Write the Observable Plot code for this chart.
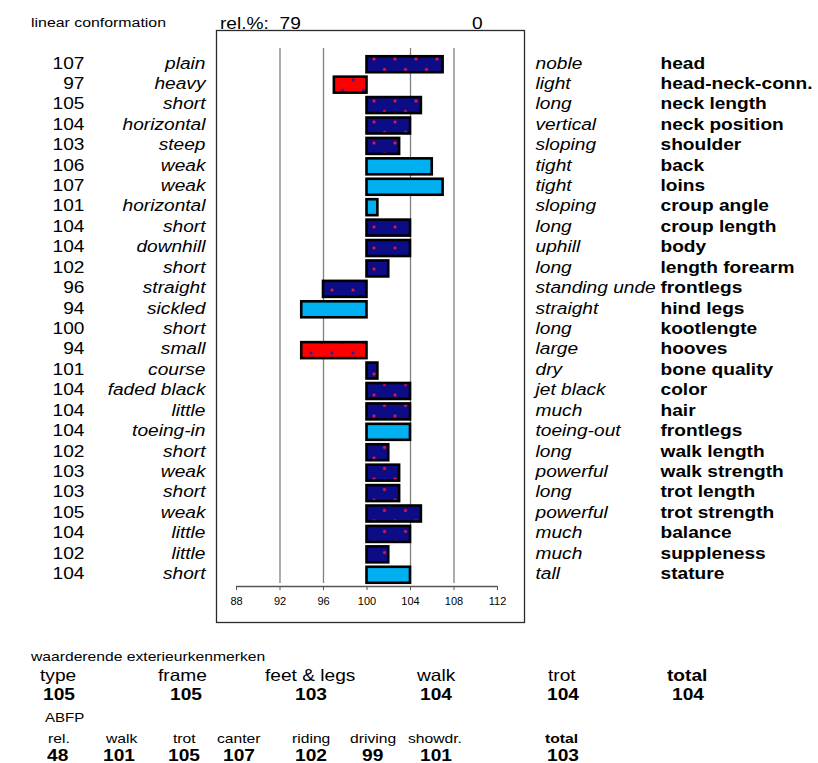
<!DOCTYPE html>
<html><head><meta charset="utf-8">
<script src="https://cdn.jsdelivr.net/npm/d3@7"></script>
<script src="https://cdn.jsdelivr.net/npm/@observablehq/plot@0.6"></script>
<style>
body{margin:0;background:#fff;font-family:"Liberation Sans",Arial,sans-serif;}
#wrap{position:relative;width:818px;height:763px;overflow:hidden;}
#wrap svg{position:absolute;left:0;top:0;}
.t{position:absolute;white-space:pre;color:#000;transform:scaleX(1.16);transform-origin:0 50%;}
</style></head><body><div id="wrap"></div>
<script>
// ---- data ----
const traits = ["head","head-neck-conn.","neck length","neck position","shoulder","back","loins","croup angle","croup length","body","length forearm","frontlegs","hind legs","kootlengte","hooves","bone quality","color","hair","frontlegs ","walk length","walk strength","trot length","trot strength","balance","suppleness","stature"];
const scores = [107,97,105,104,103,106,107,101,104,104,102,96,94,100,94,101,104,104,104,102,103,103,105,104,102,104];
const lowLabels = ["plain","heavy","short","horizontal","steep","weak","weak","horizontal","short","downhill","short","straight","sickled","short","small","course","faded black","little","toeing-in","short","weak","short","weak","little","little","short"];
const highLabels = ["noble","light","long","vertical","sloping","tight","tight","sloping","long","uphill","long","standing unde","straight","long","large","dry","jet black","much","toeing-out","long","powerful","long","powerful","much","much","tall"];
const barKind = ["navy","red","navy","navy","navy","sky","sky","sky","navy","navy","navy","navy","sky","navy","red","navy","navy","navy","sky","navy","navy","navy","navy","navy","navy","sky"];
const baseline = 100;
const axisTicks = [88,92,96,100,104,108,112];
const gridValues = [92,96,104,108];

const headerTitle = "linear conformation";
const relLabel = "rel.%:  79";
const relRight = "0";

const sectionTitle = "waarderende exterieurkenmerken";
const exterLabels = ["type","frame","feet & legs","walk","trot","total"];
const exterValues = [105,105,103,104,104,104];
const abfpTitle = "ABFP";
const abfpLabels = ["rel.","walk","trot","canter","riding","driving","showdr.","total"];
const abfpValues = [48,101,105,107,102,99,101,103];

// ---- chart ----
const rows = traits.map((trait, i) => ({trait, score: scores[i], low: lowLabels[i], high: highLabels[i], kind: barKind[i]}));
const barStyle = {x1: baseline, x2: "score", y: "trait", stroke: "#000", strokeWidth: 2.6, insetTop: 1.2, insetBottom: 1.2};

const W = 818, H = 630, mTop = 53, mBottom = 44, mLeft = 236, mRight = 321;
const chart = Plot.plot({
  width: W, height: H,
  marginTop: mTop, marginBottom: mBottom, marginLeft: mLeft, marginRight: mRight,
  style: {fontFamily: '"Liberation Sans", Arial, sans-serif', background: "transparent", overflow: "visible", color: "#000"},
  x: {domain: [axisTicks[0], axisTicks[axisTicks.length - 1]], label: null},
  y: {domain: traits, padding: 0.1, round: false, axis: null, label: null},
  marks: [
    Plot.frame({insetLeft: -20, insetRight: -27, insetTop: -23, insetBottom: -36, stroke: "#2b2b2b", strokeWidth: 1.3}),
    Plot.ruleX(gridValues, {stroke: "#808080", strokeWidth: 1.3, insetTop: -5, insetBottom: 3}),
    Plot.barX(rows.filter(d => d.kind === "navy"), {...barStyle, fill: "url(#dotsNavy)"}),
    Plot.barX(rows.filter(d => d.kind === "red"), {...barStyle, fill: "url(#dotsRed)"}),
    Plot.barX(rows.filter(d => d.kind === "sky"), {...barStyle, fill: "#00b0f0"}),
    Plot.ruleX(rows.filter(d => d.score === baseline), {x: "score", y: "trait", stroke: "#000", strokeWidth: 2.6, insetTop: 1.2, insetBottom: 1.2}),
    Plot.axisX(axisTicks, {tickSize: 4, tickPadding: 7, fontSize: 11, label: null, stroke: "#555"}),
    Plot.text(rows, {y: "trait", text: "score", frameAnchor: "left", textAnchor: "end", dx: -152, dy: -1.5, fontSize: 16.5}),
    Plot.text(rows, {y: "trait", text: "low", frameAnchor: "left", textAnchor: "end", dx: -31, dy: -1.5, fontSize: 16.5, fontStyle: "italic"}),
    Plot.text(rows, {y: "trait", text: "high", frameAnchor: "right", textAnchor: "start", dx: 38, dy: -1.5, fontSize: 16.5, fontStyle: "italic"}),
    Plot.text(rows, {y: "trait", text: d => d.trait.trim(), frameAnchor: "right", textAnchor: "start", dx: 163, dy: -1.5, fontSize: 16.5, fontWeight: "bold"})
  ]
});

// patterns for dotted bars
const svg = d3.select(chart);
const defs = svg.append("defs");
function dotPattern(id, bg, dot) {
  const p = defs.append("pattern").attr("id", id).attr("patternUnits", "userSpaceOnUse").attr("width", 21).attr("height", 21);
  p.append("rect").attr("width", 21).attr("height", 21).attr("fill", bg);
  for (const [cx, cy] of [[17, 17], [6.5, 6.5]]) {
    p.append("circle").attr("cx", cx).attr("cy", cy).attr("r", 2).attr("fill", "#6a1a6a").attr("opacity", 0.7);
    p.append("circle").attr("cx", cx).attr("cy", cy).attr("r", 1.2).attr("fill", dot);
  }
}
dotPattern("dotsNavy", "#0c0c86", "#ff1028");
dotPattern("dotsRed", "#ff0000", "#3a1a90");

// axis baseline from the x scale
const xs = chart.scale("x");
svg.append("line")
  .attr("x1", xs.apply(axisTicks[0])).attr("x2", xs.apply(axisTicks[axisTicks.length - 1]))
  .attr("y1", H - mBottom + 0.5).attr("y2", H - mBottom + 0.5)
  .attr("stroke", "#555").attr("stroke-width", 1.3);

// horizontal stretch of row texts (reference text is wider than Arial)
svg.selectAll('g[aria-label="text"] text').each(function () {
  const el = d3.select(this);
  const t = el.attr("transform");
  if (t) el.attr("transform", t + " scale(1.16,1)");
  else {
    const x = +el.attr("x") || 0, y = +el.attr("y") || 0;
    el.attr("x", null).attr("y", null).attr("transform", `translate(${x},${y}) scale(1.16,1)`);
  }
});

const wrap = document.getElementById("wrap");
wrap.appendChild(chart);

function addText(txt, x, cy, size, bold) {
  const s = document.createElement("div");
  s.className = "t";
  s.textContent = txt;
  s.style.left = x + "px";
  s.style.top = (cy - size * 0.59) + "px";
  s.style.fontSize = size + "px";
  s.style.lineHeight = (size * 1.2) + "px";
  if (bold) s.style.fontWeight = "bold";
  wrap.appendChild(s);
}

// header
addText(headerTitle, 31, 23.4, 13.7);
addText(relLabel, 220, 23.4, 16.5);
addText(relRight, 472, 23.4, 16.5);

// bottom section
addText(sectionTitle, 31, 656.5, 13.5);
const exterX = [40, 158, 265, 417, 548, 667];
const exterValX = [43, 170, 295, 420, 547, 672];
exterLabels.forEach((l, i) => addText(l, exterX[i], 676, 16.5, i === exterLabels.length - 1));
exterValues.forEach((v, i) => addText(String(v), exterValX[i], 695, 16.5, true));
addText(abfpTitle, 45, 718, 13);
const abfpX = [48, 106, 173, 217, 292, 350, 408, 545];
const abfpValX = [47, 103, 168, 223, 295, 362, 420, 547];
abfpLabels.forEach((l, i) => addText(l, abfpX[i], 739, 13.5, i === abfpLabels.length - 1));
abfpValues.forEach((v, i) => addText(String(v), abfpValX[i], 756, 16.5, true));
</script>
</body></html>
